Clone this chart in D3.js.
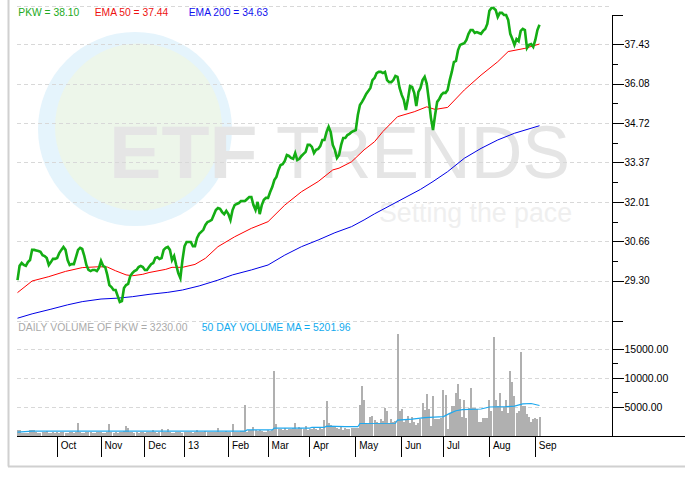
<!DOCTYPE html>
<html><head><meta charset="utf-8">
<script src="https://cdn.jsdelivr.net/npm/d3@7"></script>
<style>body{margin:0;background:#fff} svg{display:block} text{font-family:"Liberation Sans",Arial,sans-serif}</style>
</head><body><svg id="c" width="685" height="479"></svg>
<script>
// PKW daily closes, Sep 4 2012 .. Sep 5 2013 (trading-day index)
const price = [
29.32,29.81,29.91,29.84,29.81,29.94,30.01,30.36,30.36,30.34,
30.32,30.29,30.18,30.15,30.08,29.84,29.94,30.05,30.05,30.08,
30.25,30.36,30.46,30.36,30.01,29.84,29.87,29.87,30.11,30.36,
30.43,30.39,30.15,29.84,29.67,29.63,29.67,29.67,29.63,29.74,
29.98,29.81,29.77,29.50,29.15,29.08,28.98,28.98,28.77,28.57,
28.60,29.05,29.15,29.19,29.46,29.56,29.63,29.67,29.77,29.81,
29.77,29.67,29.67,29.77,29.87,29.91,30.08,30.11,30.05,30.08,
30.36,30.43,30.46,30.36,30.01,30.15,29.84,29.56,29.39,30.01,
30.49,30.63,30.63,30.63,30.49,30.49,30.77,30.91,30.98,31.05,
31.22,31.32,31.35,31.39,31.56,31.73,31.80,31.77,31.66,31.59,
31.70,31.59,31.39,31.73,31.90,31.94,31.97,32.04,32.04,32.04,
32.11,32.18,32.18,31.90,31.73,32.01,31.59,31.90,32.08,32.15,
32.15,32.35,32.52,32.76,32.87,33.11,33.28,33.31,33.42,33.62,
33.59,33.52,33.49,33.69,33.45,33.49,33.59,33.66,33.73,33.97,
33.97,33.90,33.69,33.80,33.83,33.93,34.14,34.14,34.41,34.59,
34.41,33.97,33.80,33.52,33.62,33.97,34.21,34.21,34.31,34.35,
34.41,34.45,34.48,35.00,35.34,35.45,35.58,35.72,35.82,35.93,
36.20,36.27,36.44,36.48,36.48,36.44,36.48,36.20,36.13,36.13,
36.20,36.34,36.31,35.93,35.69,35.52,35.17,35.55,35.99,35.96,
35.76,35.31,35.79,35.93,36.20,36.31,36.07,35.52,34.90,34.48,
35.00,35.45,35.55,35.69,35.76,35.76,35.86,36.20,36.48,36.82,
36.86,37.23,37.41,37.44,37.47,37.58,37.79,37.92,37.92,37.82,
37.85,37.82,37.79,37.89,37.96,38.13,38.58,38.68,38.68,38.61,
38.37,38.51,38.51,38.44,38.44,38.27,37.79,37.61,37.41,37.61,
37.54,37.89,37.96,37.92,37.30,37.41,37.44,37.34,37.58,37.92,
38.10];

// [day index, value]
const ema50 = [[0,28.89],[7,29.29],[15,29.44],[23,29.62],[31,29.75],[39,29.78],[43,29.77],[47,29.64],[52,29.50],[55,29.47],[60,29.52],[63,29.58],[71,29.69],[74,29.76],[79,29.76],[85,29.86],[90,30.07],[96,30.47],[104,30.81],[112,31.10],[120,31.33],[128,31.90],[136,32.36],[144,32.71],[151,33.11],[154,33.17],[160,33.39],[166,33.80],[171,34.08],[175,34.43],[182,34.94],[190,35.11],[196,35.28],[200,35.19],[206,35.26],[214,35.86],[222,36.37],[230,36.83],[235,37.18],[243,37.29],[250,37.44]];
const ema200 = [[0,28.01],[7,28.16],[16,28.32],[24,28.47],[31,28.58],[40,28.67],[48,28.70],[55,28.75],[63,28.83],[72,28.90],[79,28.98],[87,29.12],[96,29.32],[103,29.50],[112,29.67],[120,29.84],[128,30.18],[136,30.47],[144,30.70],[152,30.95],[160,31.16],[166,31.39],[171,31.60],[193,32.44],[199,32.71],[206,33.05],[214,33.51],[222,33.85],[230,34.14],[238,34.37],[250,34.63]];

const volume = [
980,950,500,450,520,480,900,950,980,600,
550,480,600,700,850,520,450,600,550,650,
500,700,600,480,550,700,650,500,600,2150,
600,550,500,700,650,600,500,550,700,600,
650,500,550,600,1950,700,550,600,500,650,
700,800,1670,1380,700,600,550,650,500,600,
700,550,600,650,700,980,600,550,700,1150,
600,650,1150,600,550,500,600,700,650,550,
600,650,700,600,550,650,1000,700,600,650,
750,600,700,650,600,700,1380,650,600,700,
750,650,700,2000,600,650,700,750,800,5300,
700,900,1000,1450,900,800,1000,850,600,700,
900,850,1000,11100,2000,1100,1200,1000,1300,900,
1100,1200,1300,2240,1200,1500,1300,1100,1750,1000,
1200,1100,1300,1200,1000,1300,1200,2640,6040,2180,
1900,1600,1500,1300,1200,1500,1000,1300,1200,1100,
1400,1300,1400,1300,5300,8500,6200,2200,2000,3200,
3400,2700,2400,2200,2800,2500,4800,4200,2200,2800,
2400,2600,17600,4200,4600,2400,2900,3400,2200,3200,
2300,1900,2200,2900,5600,4500,7200,4600,1600,6900,
2800,2900,2900,3000,7900,7100,1100,3900,5100,5200,
7400,8900,6400,3200,6200,3100,4800,8300,4700,4800,
4600,2300,2300,3100,3100,3000,6200,4200,17100,6200,
5200,7400,4200,5000,6200,3900,11200,9200,6900,3900,
4200,14500,5200,5100,3800,3200,2400,2900,3100,2900,
3230];
const volumeMA = [[0,600],[7,800],[109,800],[110,1000],[122,1000],[123,1300],[140,1300],[141,1450],[147,1450],[148,1650],[157,1550],[163,1550],[164,2100],[181,2150],[182,2700],[189,2850],[195,3100],[204,3300],[207,3850],[210,4300],[213,4500],[222,4600],[226,4950],[234,5000],[238,5100],[242,5500],[246,5550],[250,5201.96]];

const priceTicks = [29.30,30.66,32.01,33.37,34.72,36.08,37.43];
const volumeTicks = [5000,10000,15000];
const monthLabels = ["Oct","Nov","Dec","13","Feb","Mar","Apr","May","Jun","Jul","Aug","Sep"];
const monthStarts = [19,40,61,80,101,120,140,162,184,204,226,248];

const svg = d3.select("#c");
const FONT = '"Liberation Sans",Arial,sans-serif';
const x = d3.scaleLinear().domain([0, price.length-1]).range([17.5, 539.5]);
const yP = d3.scaleLinear().domain([27.914, 38.747]).range([321, 6]);
const yV = d3.scaleLinear().domain([0, 20000]).range([435.7, 319.7]);
const AX = 612.5;

svg.append("rect").attr("width",685).attr("height",479).attr("fill","#fff");

// watermark
const wm = svg.append("g");
wm.append("circle").attr("cx",135).attr("cy",129).attr("r",97).attr("fill","#e5f4fc");
wm.append("circle").attr("cx",138.5).attr("cy",127).attr("r",83.5).attr("fill","#edf6ea");
wm.append("text").attr("x",109).attr("y",178.3).attr("font-size",74).attr("font-weight","bold")
  .attr("fill","#e5e5e5").attr("textLength",148.5).attr("lengthAdjust","spacingAndGlyphs").text("ETF");
wm.append("text").attr("x",276).attr("y",178.3).attr("font-size",74)
  .attr("fill","#e5e5e5").attr("textLength",294).attr("lengthAdjust","spacingAndGlyphs").text("TRENDS");
wm.append("text").attr("x",379).attr("y",221.7).attr("font-size",27)
  .attr("fill","#efefef").attr("textLength",193).attr("lengthAdjust","spacingAndGlyphs").text("Setting the pace");

// frame
svg.append("line").attr("x1",8.5).attr("x2",8.5).attr("y1",0).attr("y2",466.5).attr("stroke","#d0d0d0").attr("stroke-width",2);
svg.append("line").attr("x1",8).attr("x2",685).attr("y1",466.5).attr("y2",466.5).attr("stroke","#d0d0d0").attr("stroke-width",2);

// gridlines
const grid = svg.append("g").attr("stroke","#d8d8d8").attr("stroke-dasharray","4,3").attr("shape-rendering","crispEdges");
const gridY = [yP.range()[1], ...priceTicks.map(yP), 321, ...volumeTicks.map(yV)];
grid.selectAll("line").data(gridY).join("line")
  .attr("x1",17).attr("x2",609).attr("y1",d=>Math.round(d)+0.5).attr("y2",d=>Math.round(d)+0.5);

// volume bars
svg.append("g").selectAll("rect").data(volume).join("rect")
  .attr("x",(d,i)=>Math.round(x(i))-1).attr("width",2)
  .attr("y",d=>yV(d)).attr("height",d=>yV(0)-yV(d))
  .attr("fill","#b0b0b0").attr("shape-rendering","crispEdges");

// volume MA
svg.append("path").datum(volumeMA)
  .attr("d",d3.line().x(d=>x(d[0])).y(d=>yV(d[1])))
  .attr("fill","none").attr("stroke","#1ea8ee").attr("stroke-width",1.2);

// EMA lines
svg.append("path").datum(ema200)
  .attr("d",d3.line().x(d=>x(d[0])).y(d=>yP(d[1])))
  .attr("fill","none").attr("stroke","#0000e6").attr("stroke-width",1);
svg.append("path").datum(ema50)
  .attr("d",d3.line().x(d=>x(d[0])).y(d=>yP(d[1])))
  .attr("fill","none").attr("stroke","#ff0000").attr("stroke-width",1);

// price line
svg.append("path").datum(price)
  .attr("d",d3.line().x((d,i)=>x(i)).y(d=>yP(d)))
  .attr("fill","none").attr("stroke","#14ad14").attr("stroke-width",2.6).attr("stroke-linejoin","miter");

// axes lines
svg.append("line").attr("x1",AX).attr("x2",AX).attr("y1",15).attr("y2",436.5).attr("stroke","#000");
svg.append("line").attr("x1",17).attr("x2",685).attr("y1",436.5).attr("y2",436.5).attr("stroke","#000");

function styleAxis(g, fs){
  g.select(".domain").remove();
  g.attr("font-family",FONT).attr("font-size",fs);
  g.selectAll("text").attr("fill","#000");
  g.selectAll("line").attr("stroke","#000").attr("shape-rendering","crispEdges");
}
// price axis
svg.append("g").attr("transform",`translate(${AX},0)`)
  .call(d3.axisRight(yP).tickValues(priceTicks).tickSize(11).tickPadding(1).tickFormat(d3.format(".2f")))
  .call(g=>styleAxis(g,10));
svg.append("g").attr("transform",`translate(${AX},0)`)
  .call(d3.axisRight(yP).tickValues(d3.pairs(priceTicks).map(([a,b])=>(a+b)/2)).tickSize(5).tickFormat(""))
  .call(g=>styleAxis(g,10));
svg.append("g").attr("transform",`translate(${AX},0)`)
  .call(d3.axisRight(yP).tickValues([yP.invert(15), yP.domain()[0]]).tickSize(10).tickFormat(""))
  .call(g=>styleAxis(g,10));
// volume axis
svg.append("g").attr("transform",`translate(${AX},0)`)
  .call(d3.axisRight(yV).tickValues(volumeTicks).tickSize(11).tickPadding(1).tickFormat(d=>d.toFixed(2)))
  .call(g=>styleAxis(g,10.5));
svg.append("g").attr("transform",`translate(${AX},0)`)
  .call(d3.axisRight(yV).tickValues(d3.pairs(volumeTicks).map(([a,b])=>(a+b)/2)).tickSize(5).tickFormat(""))
  .call(g=>styleAxis(g,10));

// month axis
svg.append("g").attr("transform","translate(-0.5,436.5)")
  .call(d3.axisBottom(x).tickValues(monthStarts).tickSize(20).tickFormat((d,i)=>monthLabels[i]))
  .call(g=>{
    styleAxis(g,10);
    g.selectAll("text").attr("text-anchor","start").attr("x",3.5).attr("y",12.8).attr("dy",null);
  });

// legends
const fmt = d3.format(".2f");
const legTop = [
  {t:`PKW = ${fmt(price[price.length-1])}`, x:18.3, c:"#22aa22"},
  {t:`EMA 50 = ${fmt(ema50[ema50.length-1][1])}`, x:94.7, c:"#ee1111"},
  {t:`EMA 200 = ${fmt(ema200[ema200.length-1][1])}`, x:188.7, c:"#1111ee"}
];
svg.append("g").selectAll("text").data(legTop).join("text")
  .attr("x",d=>d.x).attr("y",16).attr("font-size",10.3).attr("fill",d=>d.c).text(d=>d.t);
const legVol = [
  {t:`DAILY VOLUME OF PKW = ${fmt(volume[volume.length-1])}`, x:18.3, c:"#aaaaaa"},
  {t:`50 DAY VOLUME MA = ${fmt(volumeMA[volumeMA.length-1][1])}`, x:201.7, c:"#11aaee"}
];
svg.append("g").selectAll("text").data(legVol).join("text")
  .attr("x",d=>d.x).attr("y",330.6).attr("font-size",10.4).attr("fill",d=>d.c).text(d=>d.t);
</script></body></html>
